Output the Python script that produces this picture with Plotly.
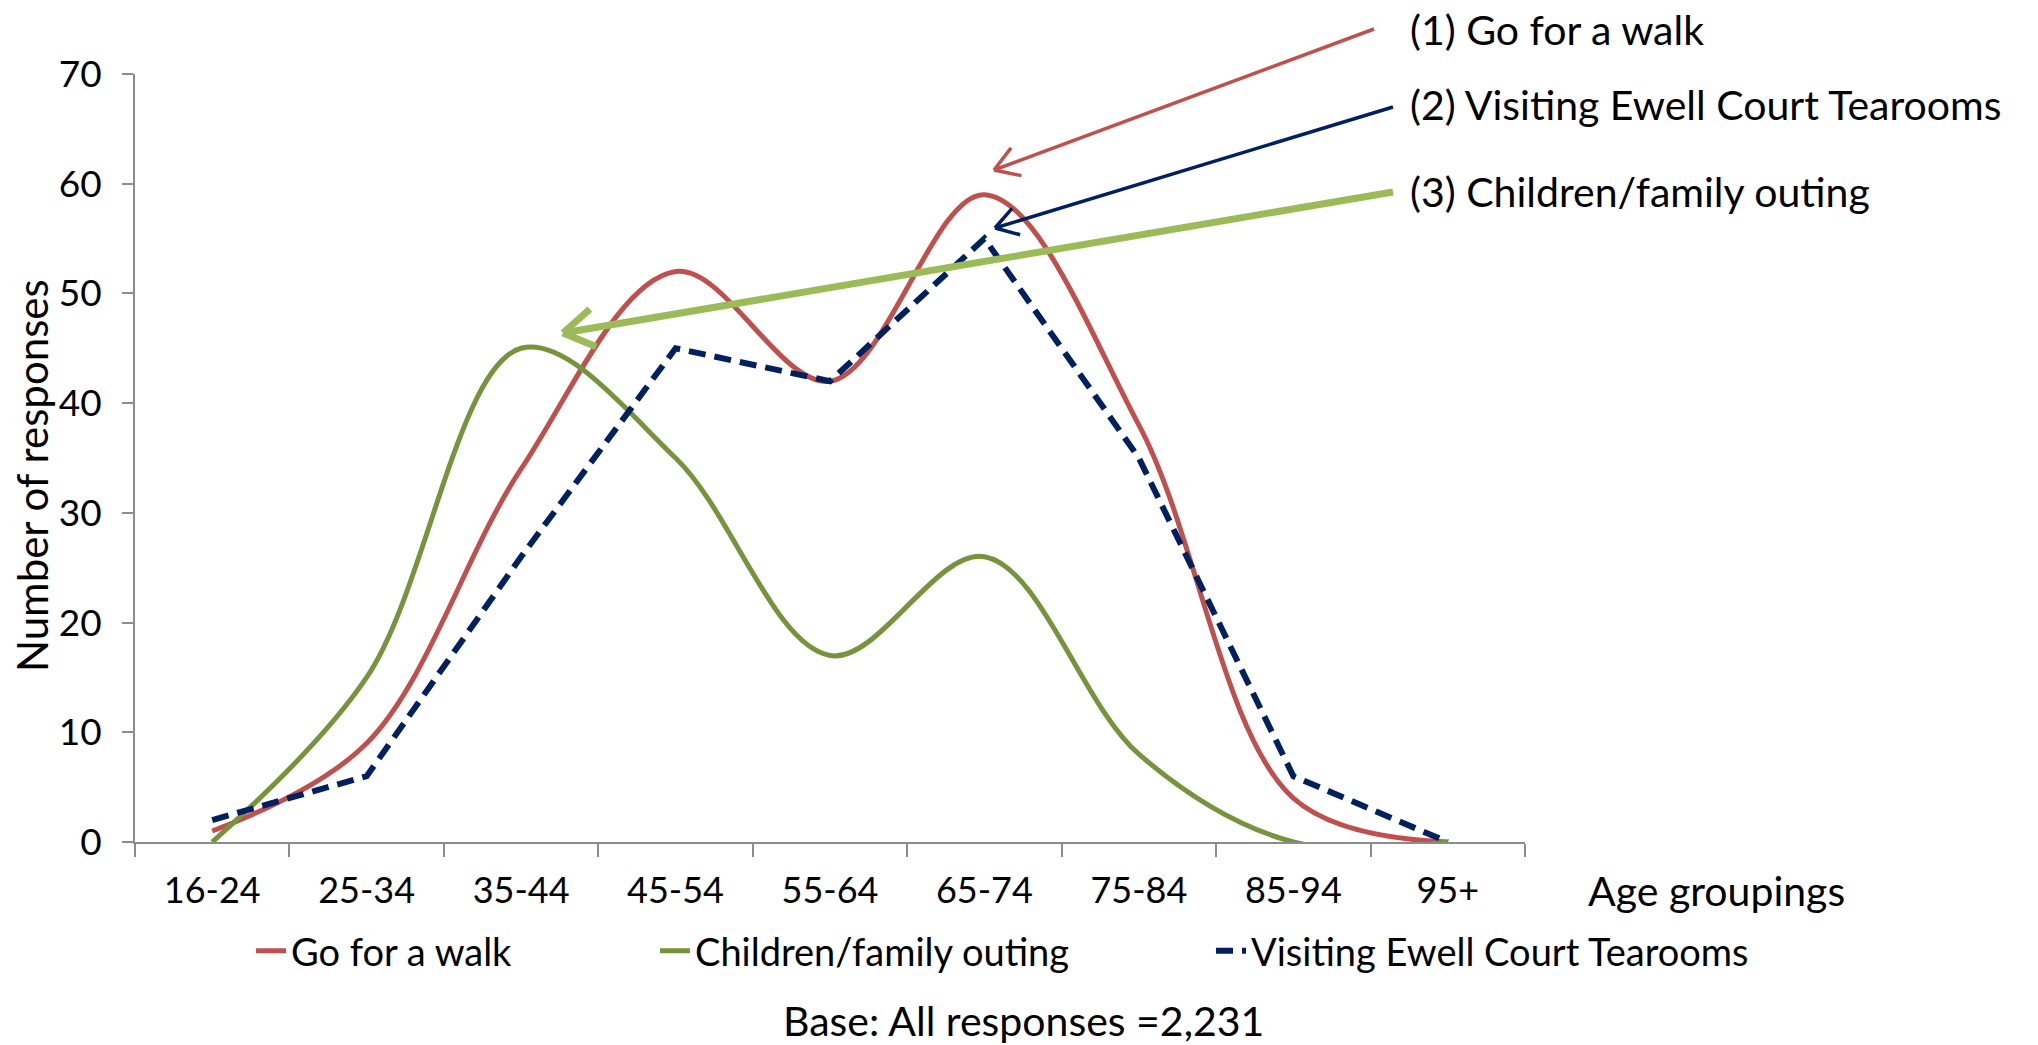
import math
import plotly.graph_objects as go

# ---------------- data ----------------
age_groups = ["16-24", "25-34", "35-44", "45-54", "55-64", "65-74", "75-84", "85-94", "95+"]
go_for_walk = [1, 9, 34, 52, 42, 59, 38, 4, 0]
family_outing = [0, 15, 45, 35, 17, 26, 8, 0, 0]
tearooms = [2, 6, 26, 45, 42, 55, 35, 6, 0]

series_names = ["Go for a walk", "Children/family outing", "Visiting Ewell Court Tearooms"]
callout_labels = ["(1) Go for a walk", "(2) Visiting Ewell Court Tearooms", "(3) Children/family outing"]
y_ticks = [0, 10, 20, 30, 40, 50, 60, 70]

# ---------------- layout geometry ----------------
W, H = 2038, 1045
L, R, T, B = 135, 513, 74, 203
PW, PH = W - L - R, H - T - B
FONT = "Lato"
RED, GREEN, NAVY = "#C0504D", "#77933C", "#002060"
LIGHT_GREEN = "#9BBB59"


def px(x):
    return (x - L) / PW


def py(y):
    return (H - B - y) / PH


fig = go.Figure()
fig.add_trace(go.Scatter(x=age_groups, y=go_for_walk, name=series_names[0], mode="lines",
                         line=dict(color=RED, width=5, shape="spline", smoothing=1.0),
                         legend="legend"))
fig.add_trace(go.Scatter(x=age_groups, y=family_outing, name=series_names[1], mode="lines",
                         line=dict(color=GREEN, width=5, shape="spline", smoothing=1.0),
                         legend="legend2"))
fig.add_trace(go.Scatter(x=age_groups, y=tearooms, name=series_names[2], mode="lines",
                         line=dict(color=NAVY, width=6, dash="17px,9px"),
                         legend="legend3"))

shapes = []


def arrow(tail, head, color, width, head_len):
    tx, ty = tail
    hx, hy = head
    shapes.append(dict(type="line", xref="paper", yref="paper",
                       x0=px(tx), y0=py(ty), x1=px(hx), y1=py(hy),
                       line=dict(color=color, width=width)))
    d = math.hypot(tx - hx, ty - hy)
    ux, uy = (tx - hx) / d, (ty - hy) / d
    for a in (math.radians(32), -math.radians(32)):
        rx = ux * math.cos(a) - uy * math.sin(a)
        ry = ux * math.sin(a) + uy * math.cos(a)
        shapes.append(dict(type="line", xref="paper", yref="paper",
                           x0=px(hx), y0=py(hy), x1=px(hx + rx * head_len), y1=py(hy + ry * head_len),
                           line=dict(color=color, width=width)))


arrow((1374, 29), (994, 170), RED, 3.5, 28)
arrow((1393, 107), (995, 228), NAVY, 3.5, 26)
arrow((1393, 192), (563, 333), LIGHT_GREEN, 7, 36)

annotations = []
for label, yy in zip(callout_labels, [30, 104, 191]):
    annotations.append(dict(text=label, xref="paper", yref="paper", x=px(1408), y=py(yy),
                            xanchor="left", yanchor="middle", showarrow=False,
                            font=dict(family=FONT, size=41, color="black")))
annotations.append(dict(text="Age groupings", xref="paper", yref="paper", x=px(1586), y=py(890),
                        xanchor="left", yanchor="middle", showarrow=False,
                        font=dict(family=FONT, size=41, color="black")))
annotations.append(dict(text="Base: All responses =2,231", xref="paper", yref="paper", x=px(1023), y=py(1020),
                        xanchor="center", yanchor="middle", showarrow=False,
                        font=dict(family=FONT, size=41, color="black")))
annotations.append(dict(text="Number of responses", xref="paper", yref="paper", x=px(32), y=py(476),
                        xanchor="center", yanchor="middle", showarrow=False, textangle=-90,
                        font=dict(family=FONT, size=42, color="black")))

legend_common = dict(orientation="h", yanchor="middle", xanchor="left", y=py(951),
                     font=dict(family=FONT, size=38, color="black"), bgcolor="rgba(0,0,0,0)",
                     itemwidth=30)

fig.update_layout(
    width=W, height=H,
    margin=dict(l=L, r=R, t=T, b=B, autoexpand=False),
    paper_bgcolor="white", plot_bgcolor="white",
    font=dict(family=FONT, size=36, color="black"),
    showlegend=True,
    legend=dict(legend_common, x=px(251)),
    legend2=dict(legend_common, x=px(655)),
    legend3=dict(legend_common, x=px(1211)),
    shapes=shapes,
    annotations=annotations,
    xaxis=dict(type="category", range=[-0.5, 8.5], showgrid=False, zeroline=False,
               showline=True, linecolor="#8C8C8C", linewidth=2,
               ticks="outside", tickson="boundaries", ticklen=13, tickwidth=2, tickcolor="#8C8C8C",
               ticklabelstandoff=16,
               tickfont=dict(family=FONT, size=36, color="black")),
    yaxis=dict(range=[0, 70], tickvals=y_ticks, showgrid=False, zeroline=False,
               showline=True, linecolor="#8C8C8C", linewidth=2,
               ticks="outside", ticklen=11, tickwidth=2, tickcolor="#8C8C8C",
               ticklabelstandoff=13,
               tickfont=dict(family=FONT, size=37, color="black")),
)

fig.write_html("out.html")
